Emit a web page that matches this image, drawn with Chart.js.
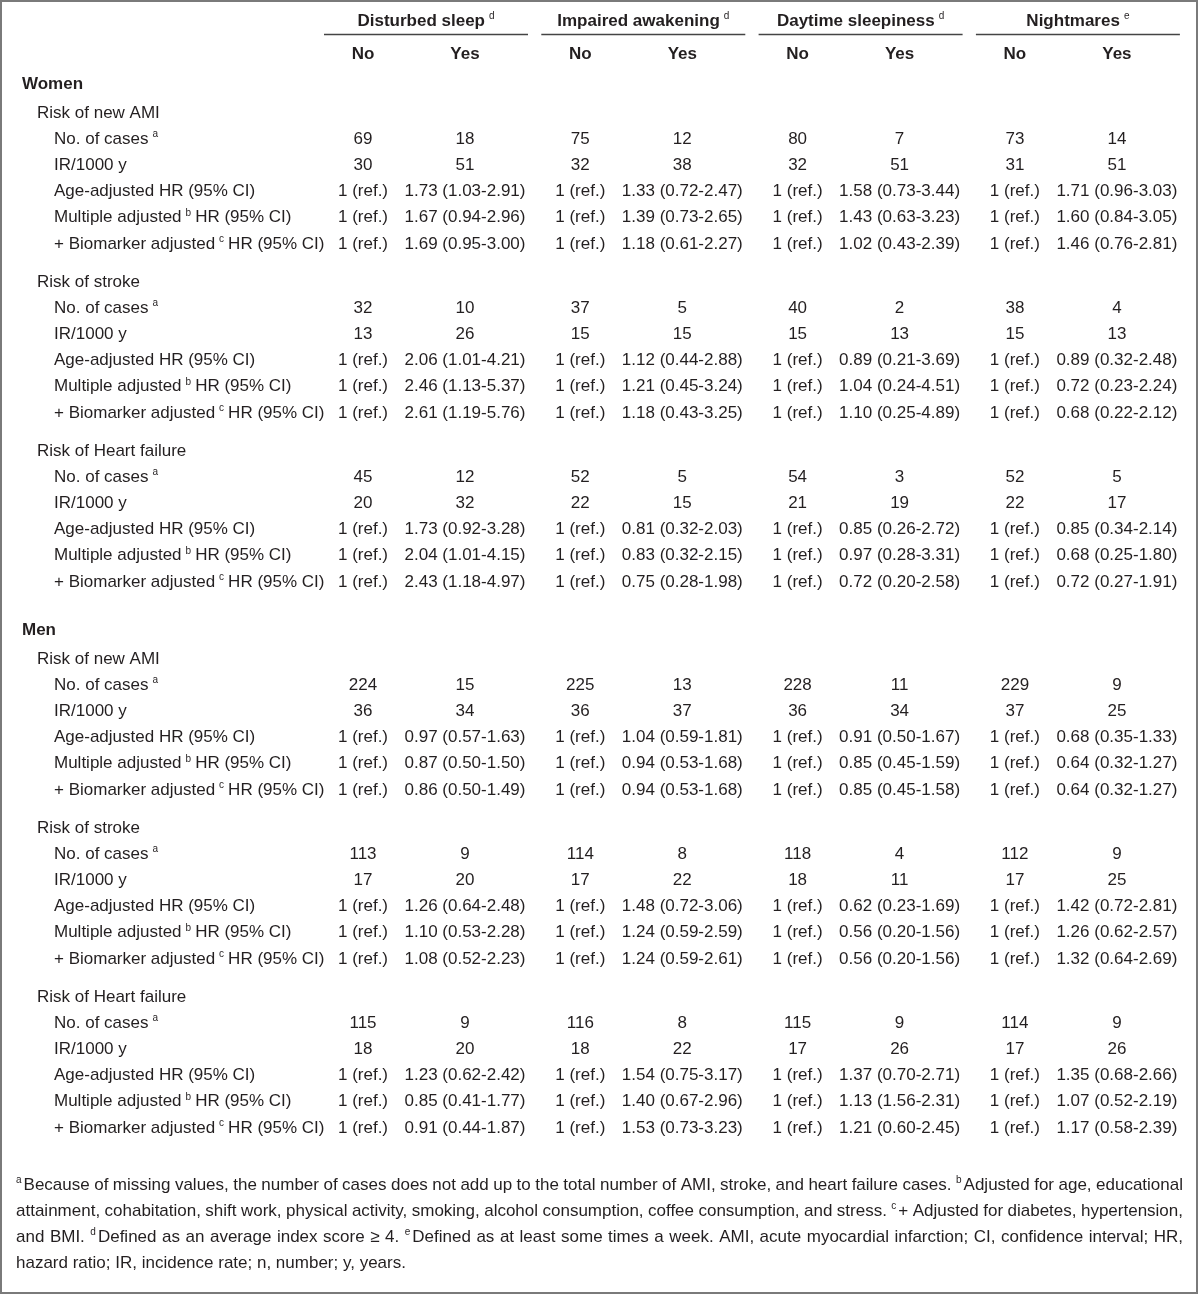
<!DOCTYPE html>
<html>
<head>
<meta charset="utf-8">
<script src="https://cdn.jsdelivr.net/npm/chart.js@4.4.1/dist/chart.umd.min.js"></script>
<style>
  html, body { margin: 0; padding: 0; background: #fff; }
  canvas { display: block; }
</style>
</head>
<body>
<canvas id="tableChart" width="1200" height="1295"></canvas>
<script>
// column headers
const groupTitles = ["Disturbed sleep", "Impaired awakening", "Daytime sleepiness", "Nightmares"];
const groupNotes = ["d", "d", "d", "e"];
const answerLabels = ["No", "Yes"];

// row headers
const sexLabels = ["Women", "Men"];
const outcomeLabels = ["Risk of new AMI", "Risk of stroke", "Risk of Heart failure"];
const measureLabels = [
    ["No. of cases", "a", ""],
    ["IR/1000 y", "", ""],
    ["Age-adjusted HR (95% CI)", "", ""],
    ["Multiple adjusted", "b", "HR (95% CI)"],
    ["+ Biomarker adjusted", "c", "HR (95% CI)"]
];
const refLabel = "1 (ref.)";

// cases and IR/1000 y, No/Yes pairs per exposure
const womenAmiCases = [69, 18, 75, 12, 80, 7, 73, 14];
const womenAmiIR = [30, 51, 32, 38, 32, 51, 31, 51];
const womenStrokeCases = [32, 10, 37, 5, 40, 2, 38, 4];
const womenStrokeIR = [13, 26, 15, 15, 15, 13, 15, 13];
const womenHfCases = [45, 12, 52, 5, 54, 3, 52, 5];
const womenHfIR = [20, 32, 22, 15, 21, 19, 22, 17];
const menAmiCases = [224, 15, 225, 13, 228, 11, 229, 9];
const menAmiIR = [36, 34, 36, 37, 36, 34, 37, 25];
const menStrokeCases = [113, 9, 114, 8, 118, 4, 112, 9];
const menStrokeIR = [17, 20, 17, 22, 18, 11, 17, 25];
const menHfCases = [115, 9, 116, 8, 115, 9, 114, 9];
const menHfIR = [18, 20, 18, 22, 17, 26, 17, 26];

// HR (95% CI) for the "Yes" columns: age, multiple, + biomarker adjusted
const womenAmiHR = [
    ["1.73 (1.03-2.91)", "1.33 (0.72-2.47)", "1.58 (0.73-3.44)", "1.71 (0.96-3.03)"],
    ["1.67 (0.94-2.96)", "1.39 (0.73-2.65)", "1.43 (0.63-3.23)", "1.60 (0.84-3.05)"],
    ["1.69 (0.95-3.00)", "1.18 (0.61-2.27)", "1.02 (0.43-2.39)", "1.46 (0.76-2.81)"]
];
const womenStrokeHR = [
    ["2.06 (1.01-4.21)", "1.12 (0.44-2.88)", "0.89 (0.21-3.69)", "0.89 (0.32-2.48)"],
    ["2.46 (1.13-5.37)", "1.21 (0.45-3.24)", "1.04 (0.24-4.51)", "0.72 (0.23-2.24)"],
    ["2.61 (1.19-5.76)", "1.18 (0.43-3.25)", "1.10 (0.25-4.89)", "0.68 (0.22-2.12)"]
];
const womenHfHR = [
    ["1.73 (0.92-3.28)", "0.81 (0.32-2.03)", "0.85 (0.26-2.72)", "0.85 (0.34-2.14)"],
    ["2.04 (1.01-4.15)", "0.83 (0.32-2.15)", "0.97 (0.28-3.31)", "0.68 (0.25-1.80)"],
    ["2.43 (1.18-4.97)", "0.75 (0.28-1.98)", "0.72 (0.20-2.58)", "0.72 (0.27-1.91)"]
];
const menAmiHR = [
    ["0.97 (0.57-1.63)", "1.04 (0.59-1.81)", "0.91 (0.50-1.67)", "0.68 (0.35-1.33)"],
    ["0.87 (0.50-1.50)", "0.94 (0.53-1.68)", "0.85 (0.45-1.59)", "0.64 (0.32-1.27)"],
    ["0.86 (0.50-1.49)", "0.94 (0.53-1.68)", "0.85 (0.45-1.58)", "0.64 (0.32-1.27)"]
];
const menStrokeHR = [
    ["1.26 (0.64-2.48)", "1.48 (0.72-3.06)", "0.62 (0.23-1.69)", "1.42 (0.72-2.81)"],
    ["1.10 (0.53-2.28)", "1.24 (0.59-2.59)", "0.56 (0.20-1.56)", "1.26 (0.62-2.57)"],
    ["1.08 (0.52-2.23)", "1.24 (0.59-2.61)", "0.56 (0.20-1.56)", "1.32 (0.64-2.69)"]
];
const menHfHR = [
    ["1.23 (0.62-2.42)", "1.54 (0.75-3.17)", "1.37 (0.70-2.71)", "1.35 (0.68-2.66)"],
    ["0.85 (0.41-1.77)", "1.40 (0.67-2.96)", "1.13 (1.56-2.31)", "1.07 (0.52-2.19)"],
    ["0.91 (0.44-1.87)", "1.53 (0.73-3.23)", "1.21 (0.60-2.45)", "1.17 (0.58-2.39)"]
];

const footnoteLines = [
    "^aBecause of missing values, the number of cases does not add up to the total number of AMI, stroke, and heart failure cases. ^bAdjusted for age, educational",
    "attainment, cohabitation, shift work, physical activity, smoking, alcohol consumption, coffee consumption, and stress. ^c+ Adjusted for diabetes, hypertension,",
    "and BMI. ^dDefined as an average index score \u2265 4. ^eDefined as at least some times a week. AMI, acute myocardial infarction; CI, confidence interval; HR,",
    "hazard ratio; IR, incidence rate; n, number; y, years."
];

const blocks = [
    [[womenAmiCases, womenAmiIR, womenAmiHR], [womenStrokeCases, womenStrokeIR, womenStrokeHR], [womenHfCases, womenHfIR, womenHfHR]],
    [[menAmiCases, menAmiIR, menAmiHR], [menStrokeCases, menStrokeIR, menStrokeHR], [menHfCases, menHfIR, menHfHR]]
];

// layout (canvas units, the scales run 0..1200 and 0..1295)
const W = 1200, H = 1295;
const FONT = "'Liberation Sans', Arial, sans-serif";
const SIZE = 17;
const INK = "#231f20";
const L = {
    titleY: 21.5, ruleY: 34.5, answerY: 54, firstY: 84,
    pitch: 26.2, toOutcome: 29, outcomeGap: 38, sexGap: 48,
    indent: [22, 37, 54],
    groupX0: 426, groupStep: 217.3, noOff: -63, yesOff: 39, ruleHalf: 102,
    footY: 1185, footPitch: 26, footLeft: 16, footRight: 1183,
    frameRight: 1197, frameBottom: 1293
};
const groupX = g => L.groupX0 + g * L.groupStep;
const colX = c => groupX(Math.floor(c / 2)) + (c % 2 ? L.yesOff : L.noOff);

// walk the row structure
const labelPoints = [];
const cellColumns = Array.from({ length: 8 }, () => []);
let y = L.firstY;
sexLabels.forEach((sex, s) => {
    if (s > 0) y += L.sexGap;
    labelPoints.push({ x: L.indent[0], y: y, parts: [{ t: sex }], bold: true });
    y += L.toOutcome;
    outcomeLabels.forEach((out, o) => {
        if (o > 0) y += L.outcomeGap;
        labelPoints.push({ x: L.indent[1], y: y, parts: [{ t: out }] });
        const [cases, ir, hr] = blocks[s][o];
        measureLabels.forEach((m, k) => {
            y += L.pitch;
            const parts = [{ t: m[0] }];
            if (m[1]) parts.push({ sup: m[1] });
            if (m[2]) parts.push({ t: m[2] });
            labelPoints.push({ x: L.indent[2], y: y, parts: parts });
            for (let c = 0; c < 8; c++) {
                let text;
                if (k === 0) text = String(cases[c]);
                else if (k === 1) text = String(ir[c]);
                else text = c % 2 ? hr[k - 2][Math.floor(c / 2)] : refLabel;
                cellColumns[c].push({ x: colX(c), y: y, parts: [{ t: text }], center: true });
            }
        });
    });
});

const headerPoints = groupTitles.map((t, g) => ({ x: groupX(g), y: L.titleY, parts: [{ t: t }, { sup: groupNotes[g] }], center: true, bold: true }));
const answerPoints = [];
for (let c = 0; c < 8; c++) answerPoints.push({ x: colX(c), y: L.answerY, parts: [{ t: answerLabels[c % 2] }], center: true, bold: true });

function setFont(ctx, size, bold) {
    ctx.font = (bold ? "bold " : "") + size + "px " + FONT;
}

function partsWidth(ctx, parts, bold) {
    let w = 0;
    parts.forEach((p, i) => {
        if (p.sup !== undefined) {
            setFont(ctx, 10, false);
            w += 4 + ctx.measureText(p.sup).width + (i < parts.length - 1 ? 4 : 0);
        } else {
            setFont(ctx, SIZE, bold);
            w += ctx.measureText(p.t).width;
        }
    });
    return w;
}

function drawParts(ctx, parts, x, y, center, bold) {
    let cx = center ? x - partsWidth(ctx, parts, bold) / 2 : x;
    parts.forEach((p, i) => {
        if (p.sup !== undefined) {
            setFont(ctx, 10, false);
            cx += 4;
            ctx.fillText(p.sup, cx, y - 5);
            cx += ctx.measureText(p.sup).width + (i < parts.length - 1 ? 4 : 0);
        } else {
            setFont(ctx, SIZE, bold);
            ctx.fillText(p.t, cx, y);
            cx += ctx.measureText(p.t).width;
        }
    });
}

// one footnote word: optional superscript then text
function wordWidth(ctx, w) {
    setFont(ctx, SIZE, false);
    let width = ctx.measureText(w.t).width;
    if (w.sup) { setFont(ctx, 10, false); width += ctx.measureText(w.sup).width + 2; }
    return width;
}

const tableText = {
    id: "tableText",
    afterDatasetsDraw(chart) {
        const ctx = chart.ctx;
        const xs = chart.scales.x, ys = chart.scales.y;
        ctx.save();
        ctx.fillStyle = INK;
        ctx.textBaseline = "middle";
        ctx.textAlign = "left";

        // frame
        ctx.strokeStyle = "#7a7a7a";
        ctx.lineWidth = 2;
        const fx = xs.getPixelForValue(1), fy = ys.getPixelForValue(1);
        ctx.strokeRect(fx, fy, xs.getPixelForValue(L.frameRight) - fx, ys.getPixelForValue(L.frameBottom) - fy);

        // rules under group titles
        ctx.strokeStyle = "#444";
        ctx.lineWidth = 1.5;
        groupTitles.forEach((t, g) => {
            const yy = ys.getPixelForValue(L.ruleY);
            ctx.beginPath();
            ctx.moveTo(xs.getPixelForValue(groupX(g) - L.ruleHalf), yy);
            ctx.lineTo(xs.getPixelForValue(groupX(g) + L.ruleHalf), yy);
            ctx.stroke();
        });

        // every text point sits where the scales put it
        chart.data.datasets.forEach((ds, i) => {
            const meta = chart.getDatasetMeta(i);
            meta.data.forEach((el, j) => {
                const d = ds.data[j];
                drawParts(ctx, d.parts, el.x, el.y, d.center, d.bold);
            });
        });

        // footnote, justified
        footnoteLines.forEach((line, li) => {
            const words = line.split(" ").map(tok => tok.startsWith("^") ? { sup: tok[1], t: tok.slice(2) } : { t: tok });
            const widths = words.map(w => wordWidth(ctx, w));
            const total = widths.reduce((a, b) => a + b, 0);
            const left = xs.getPixelForValue(L.footLeft), right = xs.getPixelForValue(L.footRight);
            setFont(ctx, SIZE, false);
            const gap = li < footnoteLines.length - 1 ? (right - left - total) / (words.length - 1) : ctx.measureText(" ").width;
            const yy = ys.getPixelForValue(L.footY + li * L.footPitch);
            let cx = left;
            words.forEach((w, k) => {
                if (w.sup) {
                    setFont(ctx, 10, false);
                    ctx.fillText(w.sup, cx, yy - 5);
                    cx += ctx.measureText(w.sup).width + 2;
                }
                setFont(ctx, SIZE, false);
                ctx.fillText(w.t, cx, yy);
                cx += ctx.measureText(w.t).width + gap;
            });
        });
        ctx.restore();
    }
};

const hidden = { pointRadius: 0, pointHoverRadius: 0, showLine: false };
const datasets = [
    Object.assign({ label: "rows", data: labelPoints }, hidden),
    Object.assign({ label: "titles", data: headerPoints }, hidden),
    Object.assign({ label: "answers", data: answerPoints }, hidden)
];
cellColumns.forEach((col, c) => {
    datasets.push(Object.assign({ label: groupTitles[Math.floor(c / 2)] + " " + answerLabels[c % 2], data: col }, hidden));
});

const ctx = document.getElementById("tableChart").getContext("2d");
new Chart(ctx, {
    type: "scatter",
    data: { datasets: datasets },
    options: {
        responsive: false,
        devicePixelRatio: 1,
        animation: false,
        events: [],
        layout: { padding: 0 },
        plugins: { legend: { display: false }, tooltip: { enabled: false } },
        scales: {
            x: { type: "linear", min: 0, max: W, display: false },
            y: { type: "linear", min: 0, max: H, reverse: true, display: false }
        }
    },
    plugins: [tableText]
});
</script>
</body>
</html>
